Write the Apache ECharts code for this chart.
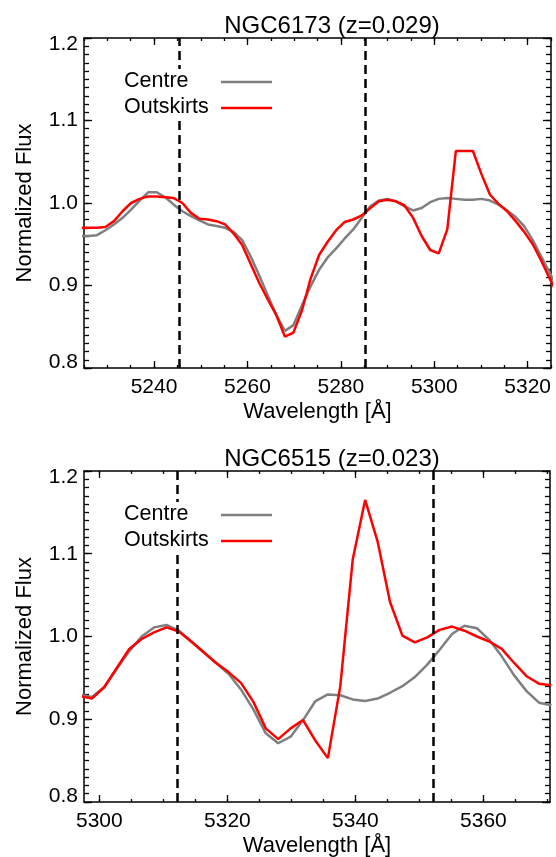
<!DOCTYPE html>
<html><head><meta charset="utf-8">
<script src="https://cdn.jsdelivr.net/npm/echarts@6/dist/echarts.min.js"></script>
<style>html,body{margin:0;padding:0;background:#fff}#c{width:556px;height:857px}</style>
</head><body><div id="c"></div>
<script>
// ---------- data ----------
const titles = ['NGC6173 (z=0.029)', 'NGC6515 (z=0.023)'];
const seriesNames = ['Centre', 'Outskirts'];

const wl1 = [5224.10,5225.93,5227.76,5229.59,5231.42,5233.25,5235.08,5236.91,5238.74,5240.57,
  5242.40,5244.23,5246.06,5247.89,5249.72,5251.55,5253.38,5255.21,5257.04,5258.87,
  5260.70,5262.53,5264.36,5266.19,5268.02,5269.85,5271.68,5273.51,5275.34,5277.17,
  5279.00,5280.83,5282.66,5284.49,5286.32,5288.15,5289.98,5291.81,5293.64,5295.47,
  5297.30,5299.13,5300.96,5302.79,5304.62,5306.45,5308.28,5310.11,5311.94,5313.77,
  5315.60,5317.43,5319.26,5321.09,5322.92,5324.75,5326.58];
const centre1 = [0.960,0.960,0.961,0.967,0.974,0.982,0.992,1.003,1.013,1.013,
  1.007,0.998,0.990,0.984,0.979,0.974,0.972,0.970,0.965,0.955,
  0.935,0.912,0.888,0.864,0.845,0.852,0.876,0.899,0.919,0.934,
  0.945,0.957,0.968,0.982,0.996,1.003,1.005,1.002,0.996,0.991,
  0.994,1.001,1.005,1.006,1.005,1.004,1.004,1.005,1.003,0.998,
  0.991,0.983,0.972,0.955,0.935,0.915,0.895];
const outskirts1 = [0.970,0.970,0.970,0.971,0.978,0.990,1.000,1.005,1.008,1.008,
  1.007,1.006,1.000,0.988,0.981,0.980,0.978,0.974,0.963,0.949,
  0.926,0.903,0.883,0.864,0.838,0.843,0.870,0.908,0.937,0.953,
  0.967,0.977,0.980,0.985,0.994,1.002,1.004,1.002,0.997,0.982,
  0.960,0.943,0.939,0.968,1.063,1.063,1.063,1.035,1.010,0.999,
  0.990,0.978,0.965,0.950,0.930,0.908,0.888];

const wl2 = [5296.90,5298.84,5300.78,5302.72,5304.66,5306.60,5308.54,5310.48,5312.42,5314.36,
  5316.30,5318.24,5320.18,5322.12,5324.06,5326.00,5327.94,5329.88,5331.82,5333.76,
  5335.70,5337.64,5339.58,5341.52,5343.46,5345.40,5347.34,5349.28,5351.22,5353.16,
  5355.10,5357.04,5358.98,5360.92,5362.86,5364.80,5366.74,5368.68,5370.62];
const centre2 = [0.930,0.927,0.939,0.961,0.982,1.000,1.011,1.014,1.007,0.994,
  0.981,0.968,0.955,0.936,0.912,0.883,0.871,0.879,0.899,0.922,
  0.930,0.929,0.924,0.922,0.925,0.932,0.940,0.951,0.966,0.984,
  1.003,1.013,1.010,0.996,0.976,0.953,0.934,0.920,0.917];
const outskirts2 = [0.928,0.925,0.939,0.962,0.985,0.997,1.005,1.011,1.006,0.994,
  0.981,0.968,0.957,0.944,0.921,0.889,0.876,0.889,0.899,0.874,
  0.853,0.940,1.093,1.165,1.115,1.042,1.001,0.993,0.999,1.008,
  1.012,1.007,1.000,0.994,0.985,0.968,0.952,0.943,0.941];

const markers1 = [5245.4, 5285.3];
const markers2 = [5312.2, 5352.1];

const xRange1 = [5225, 5325];
const xRange2 = [5297.6, 5370.4];
const xTicks1 = [5240, 5260, 5280, 5300, 5320];
const xTicks2 = [5300, 5320, 5340, 5360];
const yRange = [0.8, 1.2];
const yTicks = [0.8, 0.9, 1.0, 1.1, 1.2];

// ---------- style ----------
const FONT = 'Liberation Sans, Arial, Helvetica, sans-serif';
const GRAY = '#7f7f7f', RED = '#ff0000', BLACK = '#000';
const grids = [
  {left: 84, top: 38, width: 467, height: 330},
  {left: 84, top: 471, width: 466, height: 331}
];

function stepTicks(r, step) {
  const out = [];
  const k0 = Math.ceil(r[0] / step - 1e-9), k1 = Math.floor(r[1] / step + 1e-9);
  for (let k = k0; k <= k1; k++) out.push(+(k * step).toFixed(4));
  return out;
}
const yMinor = stepTicks(yRange, 0.01);

const xAxes = [], yAxes = [], series = [], titleOpts = [], graphics = [];
const panels = [
  {wl: wl1, c: centre1, o: outskirts1, m: markers1, r: xRange1, t: xTicks1},
  {wl: wl2, c: centre2, o: outskirts2, m: markers2, r: xRange2, t: xTicks2}
];

panels.forEach((p, gi) => {
  const g = grids[gi];
  const minor = stepTicks(p.r, 5);
  const base = {gridIndex: gi, type: 'value', min: p.r[0], max: p.r[1], splitLine: {show: false}};
  ['bottom', 'top'].forEach(pos => {
    xAxes.push(Object.assign({}, base, {
      position: pos,
      axisLine: {show: true, onZero: false, lineStyle: {color: BLACK, width: 1.5}},
      axisTick: {show: true, inside: true, length: 7, customValues: p.t, lineStyle: {color: BLACK, width: 1.3}},
      axisLabel: pos === 'bottom'
        ? {show: true, customValues: p.t, margin: 9, color: BLACK, fontSize: 21, fontFamily: FONT,
           formatter: v => String(Math.round(v))}
        : {show: false},
      name: pos === 'bottom' ? 'Wavelength [Å]' : '', nameLocation: 'middle', nameGap: 33,
      nameTextStyle: {color: BLACK, fontSize: 22, fontFamily: FONT}
    }));
    xAxes.push(Object.assign({}, base, {
      position: pos,
      axisLine: {show: false, onZero: false},
      axisTick: {show: true, inside: true, length: 3, customValues: minor, lineStyle: {color: BLACK, width: 1.3}},
      axisLabel: {show: false}
    }));
  });

  const ybase = {gridIndex: gi, type: 'value', min: yRange[0], max: yRange[1], splitLine: {show: false}};
  const rs = {fontSize: 21, fontFamily: FONT, color: BLACK};
  ['left', 'right'].forEach(pos => {
    yAxes.push(Object.assign({}, ybase, {
      position: pos,
      axisLine: {show: true, onZero: false, lineStyle: {color: BLACK, width: 1.5}},
      axisTick: {show: true, inside: true, length: 8, customValues: yTicks, lineStyle: {color: BLACK, width: 1.3}},
      axisLabel: pos === 'left' ? {
        show: true, customValues: yTicks, margin: 6, color: BLACK, fontSize: 21, fontFamily: FONT,
        formatter: v => {
          const s = v.toFixed(1);
          if (Math.abs(v - yRange[0]) < 1e-6) return '{lo|' + s + '}';
          if (Math.abs(v - yRange[1]) < 1e-6) return '{hi|' + s + '}';
          return s;
        },
        rich: {lo: Object.assign({padding: [0, 0, 12, 0]}, rs), hi: Object.assign({padding: [12, 0, 0, 0]}, rs)}
      } : {show: false},
      name: pos === 'left' ? 'Normalized Flux' : '', nameLocation: 'middle', nameGap: 48, nameRotate: 90,
      nameTextStyle: {color: BLACK, fontSize: 22, fontFamily: FONT}
    }));
    yAxes.push(Object.assign({}, ybase, {
      position: pos,
      axisLine: {show: false, onZero: false},
      axisTick: {show: true, inside: true, length: 5, customValues: yMinor, lineStyle: {color: BLACK, width: 1.3}},
      axisLabel: {show: false}
    }));
  });

  const xi = gi * 4, yi = gi * 4;
  series.push({
    name: seriesNames[0], type: 'line', xAxisIndex: xi, yAxisIndex: yi,
    data: p.wl.map((w, i) => [w, p.c[i]]), showSymbol: false, symbol: 'none', clip: true,
    lineStyle: {color: GRAY, width: 2.5}, itemStyle: {color: GRAY},
    markLine: {silent: true, symbol: ['none', 'none'], label: {show: false},
      lineStyle: {color: BLACK, type: [9, 5], width: 2.5}, emphasis: {disabled: true},
      data: p.m.map(v => ({xAxis: v}))},
    z: 2
  });
  series.push({
    name: seriesNames[1], type: 'line', xAxisIndex: xi, yAxisIndex: yi,
    data: p.wl.map((w, i) => [w, p.o[i]]), showSymbol: false, symbol: 'none', clip: true,
    lineStyle: {color: RED, width: 2.5}, itemStyle: {color: RED}, z: 3
  });

  titleOpts.push({text: titles[gi], left: 327, textAlign: 'center', top: g.top - 29,
    textStyle: {color: BLACK, fontSize: 24, fontWeight: 'normal', fontFamily: FONT}});

  // legend box (white background hides the dashed line), text left, line sample right
  graphics.push({type: 'rect', z: 50, shape: {x: 118, y: g.top + 31, width: 162, height: 49},
    style: {fill: '#fff'}});
  const ly = [g.top + 44, g.top + 70];
  seriesNames.forEach((n, k) => {
    graphics.push({type: 'text', z: 51, left: 124, top: ly[k] - 12,
      style: {text: n, fill: BLACK, font: '21.5px ' + FONT}});
    graphics.push({type: 'line', z: 51, shape: {x1: 221, y1: ly[k], x2: 272, y2: ly[k]},
      style: {stroke: k === 0 ? GRAY : RED, lineWidth: 2.5}});
  });
});

const chart = echarts.init(document.getElementById('c'), null, {renderer: 'canvas'});
chart.setOption({
  animation: false, backgroundColor: '#fff', title: titleOpts,
  grid: grids.map(g => Object.assign({containLabel: false, outerBoundsMode: 'none'}, g)),
  xAxis: xAxes, yAxis: yAxes, series: series, graphic: graphics
});
</script>
</body></html>
